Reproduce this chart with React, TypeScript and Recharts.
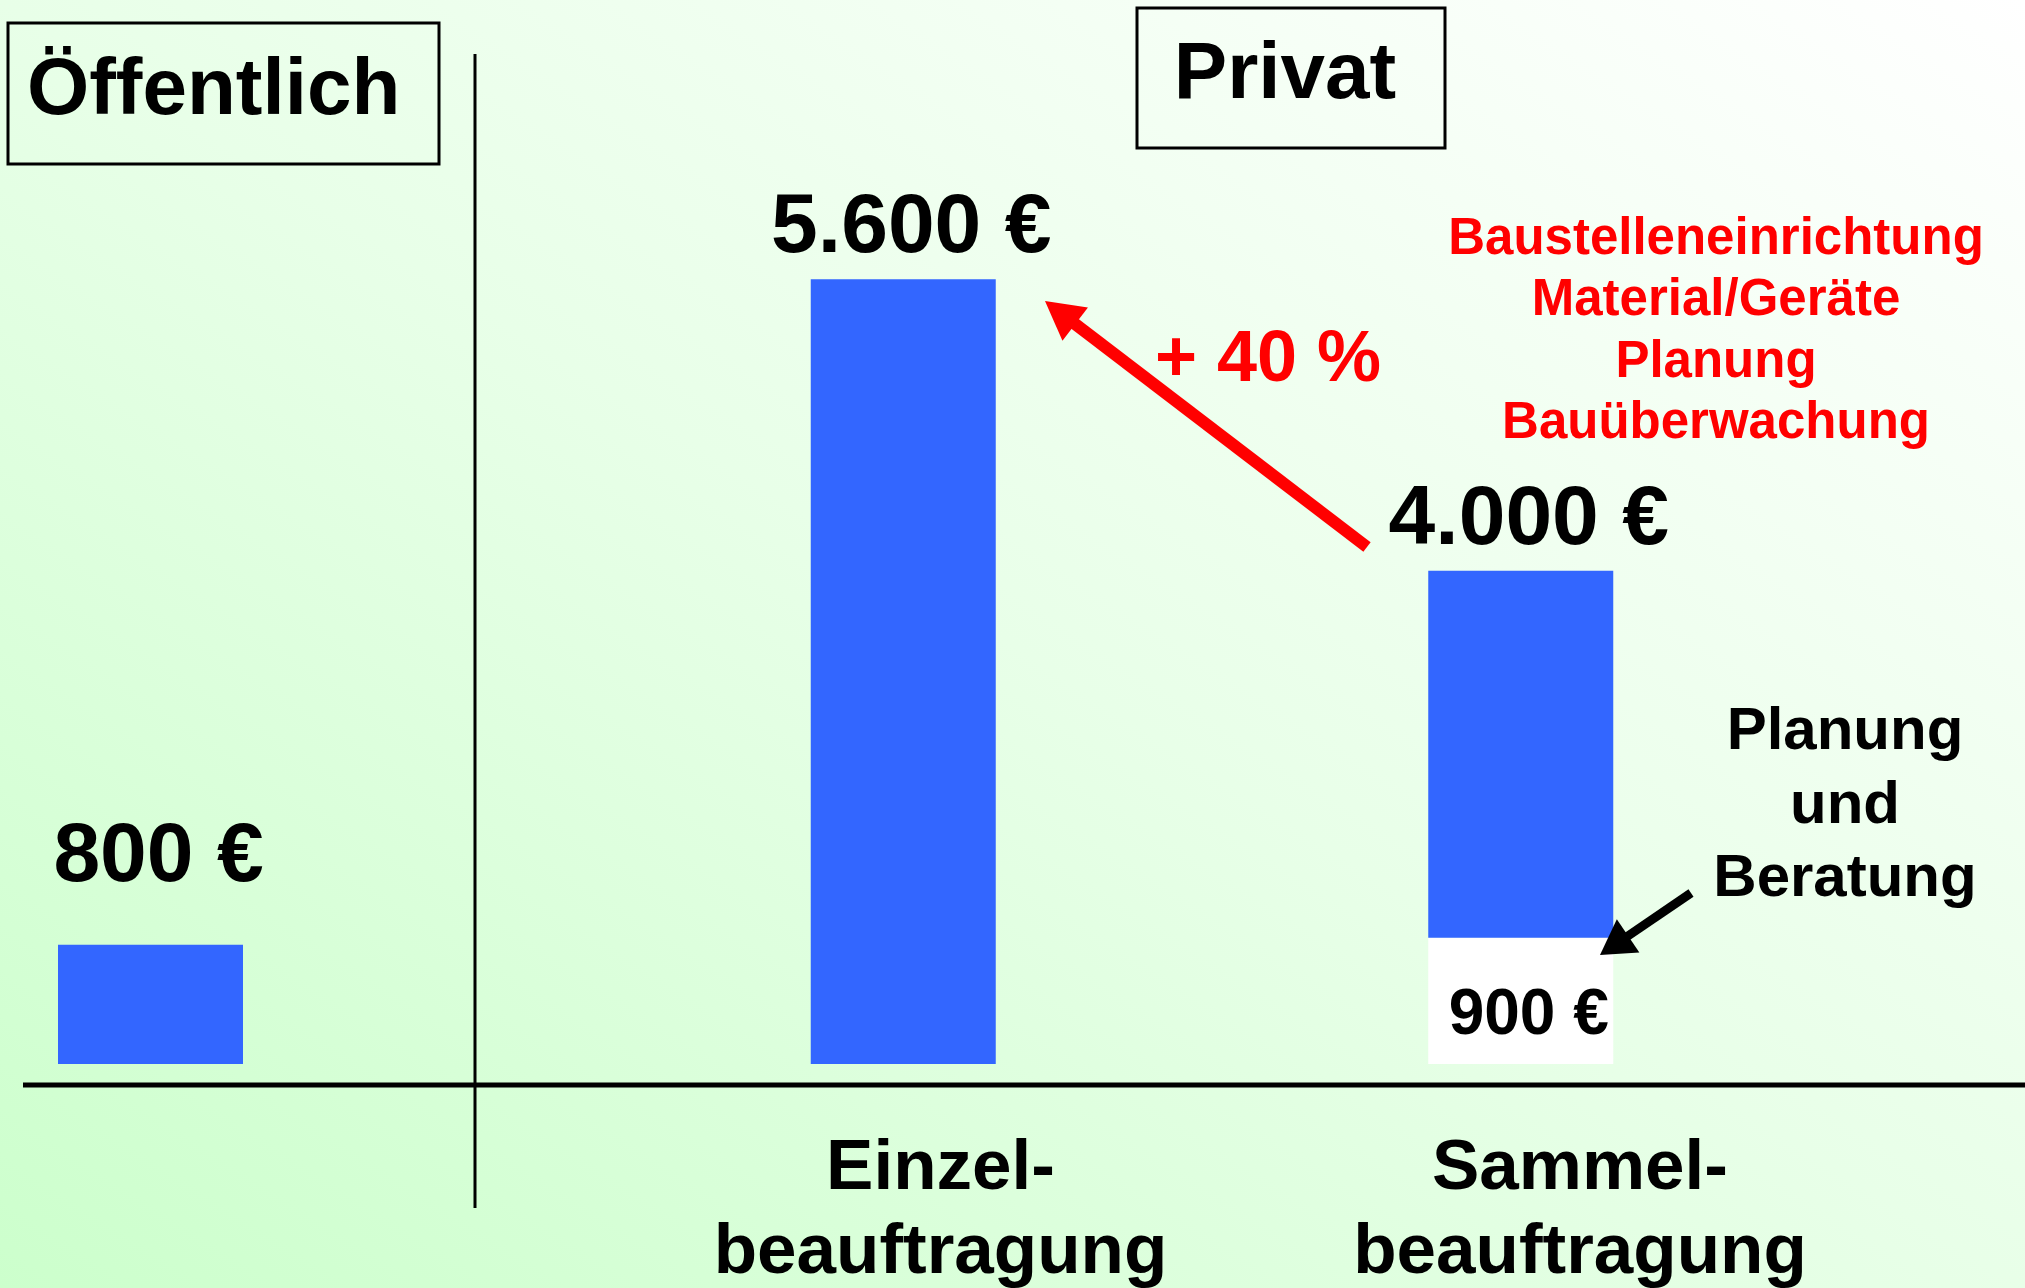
import React from 'react';
import { BarChart, Bar, XAxis, YAxis, LabelList } from 'recharts';

// bar heights as drawn in the picture, labels as printed
const publicCategories = ['Öffentlich'];
const publicValues = [850];
const publicLabels = ['800 €'];

const privateCategories = ['Einzel-\nbeauftragung', 'Sammel-\nbeauftragung'];
const privatePlanning = [0, 900];
const privateRest = [5600, 2620];
const privateLabels = ['5.600 €', '4.000 €'];
const planningLabels = ['', '900 €'];

const costNotes = ['Baustelleneinrichtung', 'Material/Geräte', 'Planung', 'Bauüberwachung'];
const planningNotes = ['Planung', 'und', 'Beratung'];
const increaseLabel = '+ 40 %';

const publicData = publicCategories.map((name, i) => ({
  name,
  value: publicValues[i],
  label: publicLabels[i],
}));

const privateData = privateCategories.map((name, i) => ({
  name,
  planning: privatePlanning[i],
  rest: privateRest[i],
  label: privateLabels[i],
  planLabel: planningLabels[i],
}));

const FONT = '"Liberation Sans", Arial, Helvetica, sans-serif';
const BLUE = '#3366ff';
const RED = '#ff0000';
const W = 2025;
const H = 1288;
const DOMAIN: [number, number] = [-150, 7000];
const TOP = 83;
const AXIS_H = 203;
const tickShift = [37, 59];

function CategoryTick(props: any) {
  const { x, y, payload, index } = props;
  const lines = String(payload.value).split('\n');
  return (
    <g>
      {lines.map((line, i) => (
        <text
          key={i}
          x={x + (tickShift[index] ?? 0)}
          y={y + 104 + i * 84}
          textAnchor="middle"
          fontFamily={FONT}
          fontWeight="bold"
          fontSize={71}
          fill="#000"
        >
          {line}
        </text>
      ))}
    </g>
  );
}

const topLabel = (offset: number) => (props: any) => {
  const { x, y, width, value } = props;
  if (!value) return null;
  return (
    <text x={x + width / 2 + 8} y={y - offset} textAnchor="middle" fontFamily={FONT} fontWeight="bold" fontSize={84} fill="#000">
      {value}
    </text>
  );
};

const bottomLabel = (props: any) => {
  const { x, y, width, height, value } = props;
  if (!value) return null;
  return (
    <text x={x + width / 2 + 8} y={y + height - 30} textAnchor="middle" fontFamily={FONT} fontWeight="bold" fontSize={64} fill="#000">
      {value}
    </text>
  );
};

function Arrow({ from, to, width, head, headWidth, color }: any) {
  const dx = to[0] - from[0];
  const dy = to[1] - from[1];
  const len = Math.hypot(dx, dy);
  const ux = dx / len;
  const uy = dy / len;
  const bx = to[0] - ux * head;
  const by = to[1] - uy * head;
  const px = (-uy * headWidth) / 2;
  const py = (ux * headWidth) / 2;
  return (
    <g>
      <line x1={from[0]} y1={from[1]} x2={bx + ux * 4} y2={by + uy * 4} stroke={color} strokeWidth={width} />
      <polygon points={`${to[0]},${to[1]} ${bx + px},${by + py} ${bx - px},${by - py}`} fill={color} />
    </g>
  );
}

export default function App() {
  return (
    <div
      style={{
        position: 'absolute',
        left: 0,
        top: 0,
        width: W,
        height: H,
        overflow: 'hidden',
        background: 'linear-gradient(to top right, #ccffcc 0%, #e8ffe8 50%, #ffffff 100%)',
      }}
    >
      <div style={{ position: 'absolute', left: 0, top: 0 }}>
        <BarChart width={300} height={H} data={publicData} margin={{ top: TOP, right: 0, left: 0, bottom: 0 }}>
          <XAxis dataKey="name" height={AXIS_H} axisLine={false} tickLine={false} tick={false} />
          <YAxis hide width={0} domain={DOMAIN} />
          <Bar dataKey="value" fill={BLUE} barSize={185} isAnimationActive={false}>
            <LabelList dataKey="label" content={topLabel(64)} />
          </Bar>
        </BarChart>
      </div>

      <div style={{ position: 'absolute', left: 0, top: 0 }}>
        <BarChart width={W} height={H} data={privateData} margin={{ top: TOP, right: 0, left: 23, bottom: 0 }}>
          <XAxis
            dataKey="name"
            height={AXIS_H}
            padding={{ left: 571.75, right: 195.25 }}
            axisLine={{ stroke: '#000', strokeWidth: 5 }}
            tickLine={false}
            tickSize={0}
            tickMargin={0}
            interval={0}
            tick={<CategoryTick />}
          />
          <YAxis hide width={0} domain={DOMAIN} />
          <Bar dataKey="planning" stackId="a" fill="#ffffff" barSize={185} isAnimationActive={false}>
            <LabelList dataKey="planLabel" content={bottomLabel} />
          </Bar>
          <Bar dataKey="rest" stackId="a" fill={BLUE} barSize={185} isAnimationActive={false}>
            <LabelList dataKey="label" content={topLabel(27)} />
          </Bar>
        </BarChart>
      </div>

      <svg width={W} height={H} style={{ position: 'absolute', left: 0, top: 0, pointerEvents: 'none' }}>
        <line x1={475} y1={54} x2={475} y2={1208} stroke="#000" strokeWidth={3} />

        <rect x={8} y={23} width={431} height={141} fill="none" stroke="#000" strokeWidth={3} />
        <text x={27} y={114} fontFamily={FONT} fontWeight="bold" fontSize={80} fill="#000">
          Öffentlich
        </text>
        <rect x={1137} y={8} width={308} height={140} fill="none" stroke="#000" strokeWidth={3} />
        <text x={1285} y={98} textAnchor="middle" fontFamily={FONT} fontWeight="bold" fontSize={80} fill="#000">
          Privat
        </text>

        <Arrow from={[1367, 547]} to={[1045, 301]} width={12} head={38} headWidth={42} color={RED} />
        <text x={1268} y={381} textAnchor="middle" fontFamily={FONT} fontWeight="bold" fontSize={72} fill={RED}>
          {increaseLabel}
        </text>

        {costNotes.map((t, i) => (
          <text key={t} x={1716} y={254 + i * 61.3} textAnchor="middle" fontFamily={FONT} fontWeight="bold" fontSize={51} fill={RED}>
            {t}
          </text>
        ))}

        {planningNotes.map((t, i) => (
          <text key={t} x={1845} y={749 + i * 73.5} textAnchor="middle" fontFamily={FONT} fontWeight="bold" fontSize={60} fill="#000">
            {t}
          </text>
        ))}
        <Arrow from={[1691, 893]} to={[1600, 955]} width={9} head={34} headWidth={40} color="#000" />
      </svg>
    </div>
  );
}
